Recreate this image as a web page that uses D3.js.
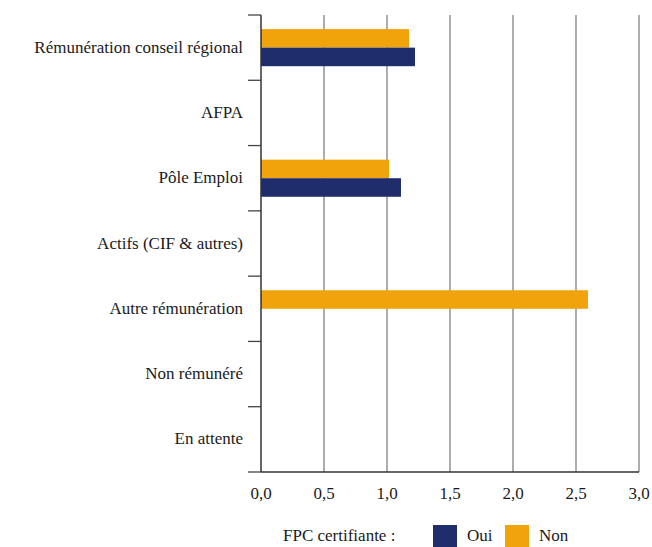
<!DOCTYPE html>
<html>
<head>
<meta charset="utf-8">
<script src="https://cdn.jsdelivr.net/npm/d3@7"></script>
<style>
  body { margin: 0; background: #fff; }
</style>
</head>
<body>
<div id="graphicContainer"></div>
<script>
var categories = ["Rémunération conseil régional", "AFPA", "Pôle Emploi", "Actifs (CIF & autres)", "Autre rémunération", "Non rémunéré", "En attente"]
var series = ["Non", "Oui"]
var nonValues = [1.175, 0, 1.016, 0, 2.595, 0, 0]
var ouiValues = [1.222, 0, 1.111, 0, 0, 0, 0]
var xTicks = [0, 0.5, 1.0, 1.5, 2.0, 2.5, 3.0]
var colors = { "Oui": "#1f2d6c", "Non": "#f0a30a" }

var width = 652, height = 547
var margin = {top: 15, right: 13, bottom: 75, left: 261}
var fontFamily = "'Liberation Serif', 'DejaVu Serif', 'Times New Roman', serif"
var fontSize = 17

var svg = d3.select("#graphicContainer").append("svg")
	.attr("width", width)
	.attr("height", height)
	.attr("font-family", fontFamily)

var x = d3.scaleLinear()
	.domain([0, 3])
	.range([margin.left, width - margin.right])

var y = d3.scaleBand()
	.domain(categories)
	.range([margin.top, height - margin.bottom])

var inner = d3.scaleBand()
	.domain(series)
	.range([0, y.bandwidth()])
	.paddingOuter(0.76)
	.paddingInner(0)

var data = []
categories.forEach(function(c, i) {
	data.push({cat: c, key: "Non", value: nonValues[i]})
	data.push({cat: c, key: "Oui", value: ouiValues[i]})
})

// vertical gridlines
svg.append("g")
	.selectAll("line")
	.data(xTicks.slice(1))
	.enter()
	.append("line")
	.attr("x1", d => x(d))
	.attr("x2", d => x(d))
	.attr("y1", margin.top)
	.attr("y2", height - margin.bottom)
	.attr("stroke", "#808080")
	.attr("stroke-width", 1.3)

// bars
svg.append("g")
	.selectAll("rect")
	.data(data.filter(d => d.value > 0))
	.enter()
	.append("rect")
	.attr("x", x(0))
	.attr("y", d => y(d.cat) + inner(d.key))
	.attr("width", d => x(d.value) - x(0))
	.attr("height", inner.bandwidth())
	.attr("fill", d => colors[d.key])

// category boundary ticks
var bounds = categories.map(c => y(c)).concat([y.range()[1]])
svg.append("g")
	.selectAll("line")
	.data(bounds)
	.enter()
	.append("line")
	.attr("x1", margin.left - 13)
	.attr("x2", margin.left)
	.attr("y1", d => d)
	.attr("y2", d => d)
	.attr("stroke", "#444")
	.attr("stroke-width", 1.3)

// axis lines
svg.append("line")
	.attr("x1", x(0)).attr("x2", x(0))
	.attr("y1", margin.top).attr("y2", height - margin.bottom)
	.attr("stroke", "#333").attr("stroke-width", 1.5)

svg.append("line")
	.attr("x1", x(0)).attr("x2", x(3))
	.attr("y1", height - margin.bottom).attr("y2", height - margin.bottom)
	.attr("stroke", "#333").attr("stroke-width", 1.5)

// category labels
svg.append("g")
	.selectAll("text")
	.data(categories)
	.enter()
	.append("text")
	.attr("x", 243)
	.attr("y", d => y(d) + y.bandwidth() / 2 + 5)
	.attr("text-anchor", "end")
	.attr("font-size", fontSize)
	.attr("fill", "#1a1a1a")
	.text(d => d)

// x tick labels
var fmt = d3.format(".1f")
svg.append("g")
	.selectAll("text")
	.data(xTicks)
	.enter()
	.append("text")
	.attr("x", d => x(d))
	.attr("y", 499)
	.attr("text-anchor", "middle")
	.attr("font-size", fontSize)
	.attr("fill", "#1a1a1a")
	.text(d => fmt(d).replace(".", ","))

// legend
var legend = svg.append("g")
legend.append("text")
	.attr("x", 283).attr("y", 541)
	.attr("font-size", fontSize)
	.attr("fill", "#1a1a1a")
	.text("FPC certifiante :")

var legendItems = [{key: "Oui", x: 433}, {key: "Non", x: 505}]
legendItems.forEach(function(l) {
	legend.append("rect")
		.attr("x", l.x).attr("y", 525)
		.attr("width", 24).attr("height", 22)
		.attr("fill", colors[l.key])
	legend.append("text")
		.attr("x", l.x + 34).attr("y", 541)
		.attr("font-size", fontSize)
		.attr("fill", "#1a1a1a")
		.text(l.key)
})
</script>
</body>
</html>
